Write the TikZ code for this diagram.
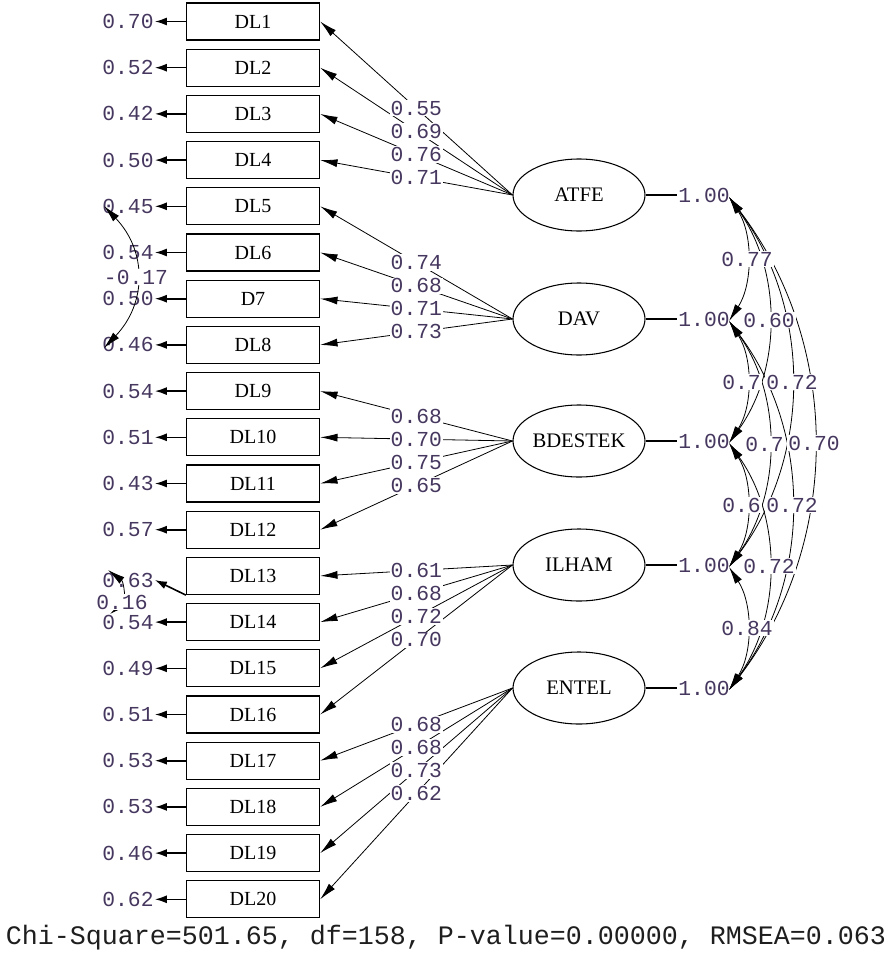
\documentclass[tikz,border=0pt]{standalone}
\usepackage{fontspec}
\setmainfont{Liberation Serif}
\newfontfamily\monof{Liberation Mono}
\usetikzlibrary{arrows.meta,shapes.geometric}
\definecolor{numcol}{RGB}{70,55,95}
\begin{document}
\begin{tikzpicture}[x=0.75pt,y=-0.75pt,
  >={Latex[length=13pt,width=6pt]},
  obs/.style={draw, line width=1pt, minimum width=99.75pt, minimum height=27.75pt, inner sep=0pt, font=\fontsize{15}{15}\selectfont},
  lat/.style={draw, ellipse, line width=0.8pt, minimum width=99pt, minimum height=54pt, inner sep=0pt, font=\fontsize{15.5}{15.5}\selectfont},
  num/.style={font=\monof\fontsize{16}{16}\selectfont, text=numcol, inner sep=0.75pt},
  numw/.style={num, fill=white},
  load/.style={->, line width=0.6pt},
  errarr/.style={-{Latex[length=9pt,width=6pt]}, line width=1.2pt},
  cov/.style={<->, line width=0.6pt},
  varln/.style={line width=0.8pt}]
\useasboundingbox (0,0) rectangle (893,956);

% observed variables
\foreach \i/\nm in {1/DL1,2/DL2,3/DL3,4/DL4,5/DL5,6/DL6,7/D7,8/DL8,9/DL9,10/DL10,11/DL11,12/DL12,13/DL13,14/DL14,15/DL15,16/DL16,17/DL17,18/DL18,19/DL19,20/DL20}{
  \node[obs] (o\i) at (253,{21.5+46.2*(\i-1)}) {\nm};
}

% error variances
\foreach \i/\ev in {1/0.70,2/0.52,3/0.42,4/0.50,5/0.45,6/0.54,7/0.50,8/0.46,9/0.54,10/0.51,11/0.43,12/0.57,14/0.54,15/0.49,16/0.51,17/0.53,18/0.53,19/0.46,20/0.62}{
  \node[num] (e\i) at (128,{21.5+46.2*(\i-1)}) {\ev};
  \draw[errarr] (o\i.west) -- (e\i.east);
}
\node[num] (e13) at (128,580) {0.63};
\draw[errarr] (o13.south west) -- (e13.east);

% latent variables
\node[lat] (L1) at (579,195) {ATFE};
\node[lat] (L2) at (579,319) {DAV};
\node[lat] (L3) at (579,441) {BDESTEK};
\node[lat] (L4) at (579,565) {ILHAM};
\node[lat] (L5) at (579,688) {ENTEL};

% loadings
\foreach \l/\i in {1/1,1/2,1/3,1/4,2/5,2/6,2/7,2/8,3/9,3/10,3/11,3/12,4/13,4/14,4/15,4/16,5/17,5/18,5/19,5/20}{
  \draw[load] (L\l.west) -- (o\i.east);
}
\foreach \l/\i/\v in {1/1/0.55,1/2/0.69,1/3/0.76,1/4/0.71,2/5/0.74,2/6/0.68,2/7/0.71,2/8/0.73,3/9/0.68,3/10/0.70,3/11/0.75,3/12/0.65,4/13/0.61,4/14/0.68,4/15/0.72,4/16/0.70,5/17/0.68,5/18/0.68,5/19/0.73,5/20/0.62}{
  \path (L\l.west) -- (o\i.east) node[pos=0.5,numw] (g\i) {\v};
}

% variances of latents
\foreach \l/\y in {1/195,2/319,3/441,4/565,5/688}{
  \node[num] (v\l) at (704,\y) {1.00};
  \draw[varln] (L\l.east) -- (v\l.west);
}

% covariances of latents
\coordinate (r1) at (729,197);
\coordinate (r2) at (729,321);
\coordinate (r3) at (729,443);
\coordinate (r4) at (729,567);
\coordinate (r5) at (729,690);
\draw[cov] (r1) .. controls +(24,37) and +(24,-37) .. (r2);
\draw[cov] (r2) .. controls +(24,37) and +(24,-37) .. (r3);
\draw[cov] (r3) .. controls +(24,37) and +(24,-37) .. (r4);
\draw[cov] (r4) .. controls +(24,37) and +(24,-37) .. (r5);
\draw[cov] (r1) .. controls +(53,74) and +(53,-74) .. (r3);
\draw[cov] (r2) .. controls +(53,74) and +(53,-74) .. (r4);
\draw[cov] (r3) .. controls +(53,74) and +(53,-74) .. (r5);
\draw[cov] (r1) .. controls +(83,111) and +(83,-111) .. (r4);
\draw[cov] (r2) .. controls +(83,111) and +(83,-111) .. (r5);
\draw[cov] (r1) .. controls +(113,148) and +(113,-148) .. (r5);
\node[numw] (c12) at (747,259) {0.77};
\node[numw,anchor=west] (c23) at (721,382) {0.7};
\node[numw,anchor=west] (c34) at (721,505) {0.6};
\node[numw] (c45) at (747,628) {0.84};
\node[numw] (c13) at (769,320) {0.60};
\node[numw,anchor=west] (c24) at (744,444) {0.7};
\node[numw] (c35) at (769,566) {0.72};
\node[numw] (c14) at (792,382) {0.72};
\node[numw] (c25) at (792,505) {0.72};
\node[numw] (c15) at (814,443) {0.70};

% error covariances
\coordinate (a5) at (104,206);
\coordinate (a8) at (104,348);
\draw[cov] (a5) .. controls +(43,45) and +(43,-45) .. (a8);
\node[numw] (k58) at (136,277) {-0.17};
\coordinate (a13) at (108,570);
\coordinate (a14) at (110,614);
\draw[cov] (a13) .. controls +(16,12) and +(16,-12) .. (a14);
\node[numw] (k1314) at (122,602) {0.16};

% fit statistics
\node[font=\monof\fontsize{20}{20}\selectfont, text={rgb,255:red,30;green,30;blue,30}, anchor=base, inner sep=0pt] (stat) at (446,944) {Chi-Square=501.65, df=158, P-value=0.00000, RMSEA=0.063};
\end{tikzpicture}
\end{document}
